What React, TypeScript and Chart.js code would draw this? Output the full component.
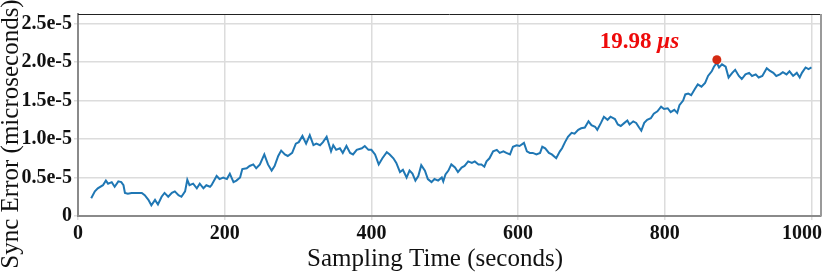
import React, { useEffect, useRef } from 'react';
import { Chart, registerables } from 'chart.js';

Chart.register(...registerables);

// Sampling time (seconds)
const sampleTimes = [
  18, 23, 27, 34, 38, 41, 46, 50, 55, 59,
  62, 64, 68, 73, 80, 87, 91, 96, 100, 105,
  109, 114, 118, 123, 128, 132, 137, 141, 146, 149,
  152, 157, 162, 166, 171, 175, 180, 182, 189, 193,
  198, 203, 207, 212, 216, 221, 224, 230, 234, 239,
  243, 248, 254, 259, 264, 268, 273, 277, 282, 286,
  292, 297, 301, 306, 311, 316, 321, 325, 330, 334,
  339, 345, 348, 352, 357, 361, 366, 371, 375, 380,
  387, 391, 396, 400, 405, 410, 415, 421, 425, 430,
  434, 439, 443, 448, 452, 456, 460, 464, 468, 473,
  477, 482, 486, 491, 496, 498, 501, 505, 509, 514,
  518, 523, 527, 532, 537, 541, 546, 550, 554, 557,
  561, 566, 571, 575, 580, 584, 589, 593, 598, 602,
  608, 612, 616, 620, 625, 630, 633, 637, 642, 646,
  652, 657, 660, 664, 668, 673, 677, 682, 686, 691,
  696, 700, 705, 708, 713, 717, 722, 726, 732, 736,
  740, 745, 749, 752, 757, 761, 765, 768, 772, 776,
  781, 785, 790, 795, 799, 804, 808, 813, 817, 820,
  825, 828, 832, 836, 841, 845, 850, 855, 859, 864,
  867, 871, 874, 878, 883, 887, 892, 896, 901, 905,
  910, 915, 919, 924, 928, 933, 939, 943, 948, 952,
  957, 961, 966, 970, 975, 980, 984, 987, 992, 996,
  1000,
];

// Sync error, in units of 1e-5
const syncErrorE5 = [
  0.23, 0.32, 0.36, 0.40, 0.46, 0.42, 0.44, 0.38, 0.45, 0.44,
  0.40, 0.30, 0.29, 0.30, 0.30, 0.30, 0.27, 0.21, 0.14, 0.21,
  0.15, 0.25, 0.30, 0.25, 0.30, 0.32, 0.27, 0.25, 0.32, 0.47,
  0.40, 0.42, 0.36, 0.42, 0.36, 0.40, 0.38, 0.40, 0.52, 0.48,
  0.50, 0.48, 0.55, 0.44, 0.46, 0.50, 0.61, 0.62, 0.65, 0.67,
  0.62, 0.67, 0.80, 0.67, 0.59, 0.65, 0.78, 0.85, 0.80, 0.78,
  0.82, 0.94, 0.96, 1.04, 0.94, 1.05, 0.92, 0.94, 0.92, 0.96,
  1.03, 0.84, 0.92, 0.86, 0.88, 0.82, 0.91, 0.82, 0.80, 0.86,
  0.88, 0.91, 0.86, 0.86, 0.80, 0.67, 0.75, 0.83, 0.80, 0.75,
  0.69, 0.57, 0.60, 0.50, 0.59, 0.55, 0.46, 0.52, 0.66, 0.59,
  0.48, 0.44, 0.48, 0.46, 0.50, 0.45, 0.54, 0.59, 0.67, 0.63,
  0.57, 0.63, 0.65, 0.71, 0.69, 0.71, 0.67, 0.67, 0.64, 0.71,
  0.75, 0.84, 0.86, 0.82, 0.84, 0.82, 0.80, 0.90, 0.92, 0.91,
  0.95, 0.84, 0.82, 0.82, 0.80, 0.82, 0.90, 0.88, 0.82, 0.80,
  0.75, 0.84, 0.88, 0.96, 1.03, 1.08, 1.07, 1.12, 1.14, 1.15,
  1.23, 1.18, 1.16, 1.12, 1.21, 1.29, 1.25, 1.29, 1.26, 1.19,
  1.17, 1.21, 1.24, 1.19, 1.23, 1.21, 1.15, 1.11, 1.21, 1.25,
  1.27, 1.33, 1.36, 1.42, 1.39, 1.40, 1.35, 1.38, 1.34, 1.44,
  1.50, 1.58, 1.59, 1.57, 1.65, 1.71, 1.68, 1.73, 1.82, 1.88,
  1.94, 1.99, 1.93, 1.97, 1.94, 1.80, 1.86, 1.90, 1.82, 1.78,
  1.84, 1.86, 1.82, 1.84, 1.80, 1.82, 1.92, 1.89, 1.86, 1.82,
  1.84, 1.87, 1.84, 1.88, 1.82, 1.86, 1.80, 1.86, 1.93, 1.91,
  1.93,
];

const xTickValues = [0, 200, 400, 600, 800, 1000];
const yTickValues = [0, 0.5, 1, 1.5, 2, 2.5];
const yTickLabels = ['0', '0.5e-5', '1.0e-5', '1.5e-5', '2.0e-5', '2.5e-5'];

const peakTime = 871;
const peakValue = 2.03;
const peakText = '19.98 ';
const peakUnit = 'μs';

const xTitle = 'Sampling Time (seconds)';
const yTitle = 'Sync Error (microseconds)';

const SERIF = "'Liberation Serif', 'Times New Roman', Times, serif";

const decorPlugin = {
  id: 'decor',
  afterDraw(chart: any) {
    const { ctx, chartArea } = chart;
    const xs = chart.scales.x;
    const ys = chart.scales.y;
    ctx.save();
    // top border
    ctx.strokeStyle = '#222';
    ctx.lineWidth = 1;
    ctx.beginPath();
    ctx.moveTo(chartArea.left, chartArea.top + 0.5);
    ctx.lineTo(chartArea.right, chartArea.top + 0.5);
    ctx.stroke();
    // right border
    ctx.strokeStyle = '#9a9a9a';
    ctx.lineWidth = 2;
    ctx.beginPath();
    ctx.moveTo(chartArea.right, chartArea.top);
    ctx.lineTo(chartArea.right, chartArea.bottom);
    ctx.stroke();

    // x tick labels
    ctx.fillStyle = '#111';
    ctx.font = `bold 20px ${SERIF}`;
    ctx.textAlign = 'center';
    ctx.textBaseline = 'top';
    const cw = chart.width;
    xTickValues.forEach((v) => {
      const px = xs.getPixelForValue(v);
      const label = String(v);
      const w = ctx.measureText(label).width;
      const cx = Math.min(px, cw - 8 - w / 2);
      ctx.fillText(label, cx, chartArea.bottom + 8);
    });

    // axis titles
    ctx.font = `25px ${SERIF}`;
    ctx.textBaseline = 'middle';
    ctx.fillText(xTitle, 435, 259);
    ctx.save();
    ctx.translate(11, 134);
    ctx.rotate(-Math.PI / 2);
    ctx.fillText(yTitle, 0, 0);
    ctx.restore();

    // peak annotation
    const dx = xs.getPixelForValue(peakTime);
    const dy = ys.getPixelForValue(peakValue);
    ctx.fillStyle = '#ee0a0a';
    ctx.textAlign = 'left';
    ctx.textBaseline = 'alphabetic';
    ctx.font = `bold 23px ${SERIF}`;
    const startX = dx - 117;
    const baseY = dy - 12;
    ctx.fillText(peakText, startX, baseY);
    const w1 = ctx.measureText(peakText).width;
    ctx.font = `italic bold 23px ${SERIF}`;
    ctx.fillText(peakUnit, startX + w1, baseY);
    ctx.restore();
  },
};

export default function App() {
  const ref = useRef<HTMLCanvasElement | null>(null);
  useEffect(() => {
    if (!ref.current) return;
    const chart = new Chart(ref.current, {
      type: 'line',
      data: {
        datasets: [
          {
            data: sampleTimes.map((t, i) => ({ x: t, y: syncErrorE5[i] })),
            borderColor: '#1f77b4',
            borderWidth: 2,
            pointRadius: 0,
            tension: 0,
            order: 2,
          },
          {
            data: [{ x: peakTime, y: peakValue }],
            showLine: false,
            pointRadius: 4.5,
            pointBackgroundColor: '#d42a12',
            pointBorderWidth: 0,
            order: 1,
          },
        ],
      },
      options: {
        animation: false,
        responsive: false,
        layout: { padding: { left: 0, top: 7, right: 9, bottom: 0 } },
        plugins: { legend: { display: false }, tooltip: { enabled: false } },
        scales: {
          x: {
            type: 'linear',
            min: 0,
            max: 1013,
            afterFit: (s: any) => {
              s.height = 57;
            },
            afterBuildTicks: (s: any) => {
              s.ticks = xTickValues.map((v) => ({ value: v }));
            },
            ticks: { display: false },
            grid: { color: '#dcdcdc', lineWidth: 1.5, tickLength: 4 },
            border: { color: '#8a8a8a', width: 2 },
          },
          y: {
            type: 'linear',
            min: 0,
            max: 2.625,
            afterFit: (s: any) => {
              s.width = 78;
            },
            afterBuildTicks: (s: any) => {
              s.ticks = yTickValues.map((v) => ({ value: v }));
            },
            ticks: {
              callback: (v: any) => {
                const i = yTickValues.indexOf(Number(v));
                return i >= 0 ? yTickLabels[i] : '';
              },
              font: { family: SERIF, size: 20, weight: 'bold' },
              color: '#111',
              padding: 2,
            },
            grid: { color: '#dcdcdc', lineWidth: 1.5, tickLength: 4 },
            border: { color: '#8a8a8a', width: 2 },
          },
        },
      },
      plugins: [decorPlugin],
    } as any);
    return () => chart.destroy();
  }, []);
  return (
    <div style={{ position: 'fixed', left: 0, top: 0, width: 830, height: 273, background: '#fff' }}>
      <canvas ref={ref} width={830} height={273} style={{ display: 'block' }} />
    </div>
  );
}
